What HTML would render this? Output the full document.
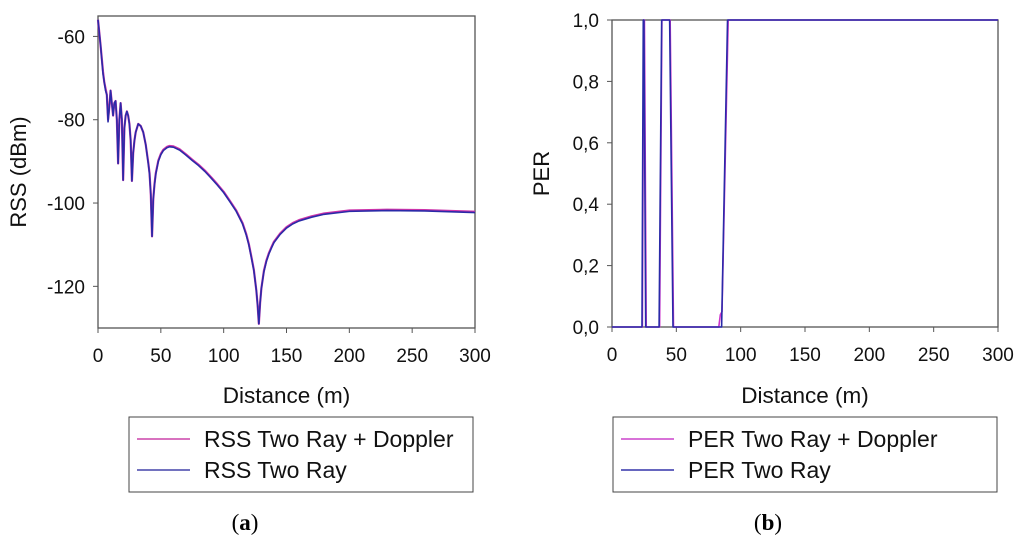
<!DOCTYPE html>
<html><head><meta charset="utf-8"><style>
body{margin:0;background:#fff;width:1024px;height:548px;overflow:hidden}
svg{font-family:"Liberation Sans",sans-serif}
</style></head><body>
<svg id="chart" width="1024" height="548">
<g id="a"></g>
<g id="b"></g>
</svg>
<script>
const rssX=[0,2,4,5,6,7,8,9,10,11,12,13,14,15,16,17,18,19,20,21,22,23,24,25,26,27,28,29,30,32,34,36,38,40,41,42,43,44,45,46,48,50,52,55,57,60,65,70,75,80,85,90,95,100,105,110,115,118,120,122,124,126,127,128,129,130,132,134,136,138,140,145,150,155,160,170,180,200,230,260,300];
const rssDoppler=[-56,-62,-68.5,-71,-72.5,-74,-80,-77,-73,-76,-79,-76,-75.5,-80,-90.5,-80,-76,-80,-94.5,-82,-79,-78,-79,-81,-85,-94.7,-88,-85,-83,-81,-81.5,-83,-86,-90.3,-92.8,-97.8,-108,-99,-95.3,-92.8,-89.8,-88.2,-87.2,-86.5,-86.3,-86.4,-87.1,-88.3,-89.6,-90.8,-92.2,-93.8,-95.5,-97.3,-99.5,-101.8,-104.8,-107.5,-109.8,-112.8,-116,-121,-124.5,-129,-124,-120.5,-116.3,-113.8,-112,-110.6,-109.3,-107.3,-105.8,-104.8,-104.1,-103.2,-102.5,-101.8,-101.6,-101.7,-102.1];
const rssTwoRay=[-56,-62,-69,-71,-73,-74,-80.5,-77,-73,-76,-79,-76,-75.5,-80,-90.5,-80,-76,-80,-94.5,-82,-79,-78,-79,-81,-85,-94.7,-88,-85,-83,-81,-81.5,-83,-86,-90.5,-93,-98,-108,-99,-95.5,-93,-90,-88.4,-87.4,-86.7,-86.5,-86.6,-87.3,-88.5,-89.8,-91,-92.4,-94,-95.7,-97.5,-99.7,-102,-105,-107.7,-110,-113,-116.2,-121,-124.5,-129,-124,-120.5,-116.5,-114,-112.2,-110.8,-109.5,-107.5,-106,-105,-104.3,-103.4,-102.7,-102,-101.8,-101.9,-102.3];
const rssYTicks=[-60,-80,-100,-120];
const xTicks=[0,50,100,150,200,250,300];
const perX1=[0,23.3,24.3,24.8,26.2,36.6,38.6,44.8,47.4,85.2,89.8,300];
const perTwoRay=[0,0,1,1,0,0,1,1,0,0,1,1];
const perX2=[0,23.6,24.6,25.2,26.6,37,38.8,45.2,47.8,83,84.2,85.5,90.3,300];
const perDoppler=[0,0,1,1,0,0,1,1,0,0,0.04,0.05,1,1];
const perYTicks=[0,0.2,0.4,0.6,0.8,1.0];
const NS='http://www.w3.org/2000/svg';
function mk(p,t,a,txt){const e=document.createElementNS(NS,t);for(const k in a)e.setAttribute(k,a[k]);if(txt!==undefined)e.textContent=txt;p.appendChild(e);return e;}
function panel(g,L,R,T,B,ymin,ymax,yt,fmt,ytitle,ytx,series,legend,leg,cap,capx){
 const sx=v=>L+(v-0)/300*(R-L), sy=v=>B-(v-ymin)/(ymax-ymin)*(B-T);
 let r=mk(g,'rect',{x:L,y:T,width:R-L,height:B-T,fill:'none',stroke:'#555','stroke-width':1.3});
 
 yt.forEach(v=>{mk(g,'line',{x1:L-5,x2:L,y1:sy(v),y2:sy(v),stroke:'#555'});
  let t=mk(g,'text',{x:L-13,y:sy(v)+7,'text-anchor':'end','font-size':19,fill:'#111'},fmt(v));
  });
 xTicks.forEach(v=>{mk(g,'line',{x1:sx(v),x2:sx(v),y1:B,y2:B+5,stroke:'#555'});
  let t=mk(g,'text',{x:sx(v),y:B+34,'text-anchor':'middle','font-size':19,fill:'#111'},v);
  });
 let xt=mk(g,'text',{x:(L+R)/2,y:403,'text-anchor':'middle','font-size':22.5,fill:'#111'},'Distance (m)');
 
 let yti=mk(g,'text',{x:0,y:0,'text-anchor':'middle','font-size':22,fill:'#111',transform:`translate(${ytx},${(T+B)/2}) rotate(-90)`},ytitle);
 
 series.forEach(s=>{const d=s.x.map((x,i)=>(i?'L':'M')+sx(x).toFixed(2)+','+sy(Math.max(ymin,s.y[i])).toFixed(2)).join('');
  let p=mk(g,'path',{d:d,fill:'none',stroke:s.c,'stroke-width':s.w,'stroke-linejoin':'round'});
  });
 let lb=mk(g,'rect',{x:leg[0],y:417,width:leg[1]-leg[0],height:75,fill:'#fff',stroke:'#444'});
 
 legend.forEach((l,i)=>{const y=439+i*31;mk(g,'line',{x1:leg[0]+8,x2:leg[0]+61,y1:y,y2:y,stroke:l.c,'stroke-width':1.5});
  let t=mk(g,'text',{x:leg[0]+75,y:y+8,'font-size':23,fill:'#111'},l.t);
  });
 let c=mk(g,'text',{x:capx,y:530,'text-anchor':'middle','font-size':23,'font-family':'Liberation Serif, serif',fill:'#000'},'');
 c.innerHTML='(<tspan font-weight="bold">'+cap+'</tspan>)';
 
}
panel(document.getElementById('a'),98,475,16,328,-130,-55.1,rssYTicks,v=>v,'RSS (dBm)',26,
 [{x:rssX,y:rssDoppler,c:'#cc33aa',w:2.2,n:'rss-doppler-line'},{x:rssX,y:rssTwoRay,c:'#2a2aa8',w:1.6,n:'rss-two-ray-line'}],
 [{t:'RSS Two Ray + Doppler',c:'#cc44aa'},{t:'RSS Two Ray',c:'#4444aa'}],[129,473],'a',245);
panel(document.getElementById('b'),612,998,20,327,0,1,perYTicks,v=>v.toFixed(1).replace('.',','),'PER',549,
 [{x:perX2,y:perDoppler,c:'#cc33cc',w:1.6,n:'per-doppler-line'},{x:perX1,y:perTwoRay,c:'#2a2aa8',w:1.6,n:'per-two-ray-line'}],
 [{t:'PER Two Ray + Doppler',c:'#cc44cc'},{t:'PER Two Ray',c:'#3333aa'}],[613,997],'b',768);
</script>
</body></html>
